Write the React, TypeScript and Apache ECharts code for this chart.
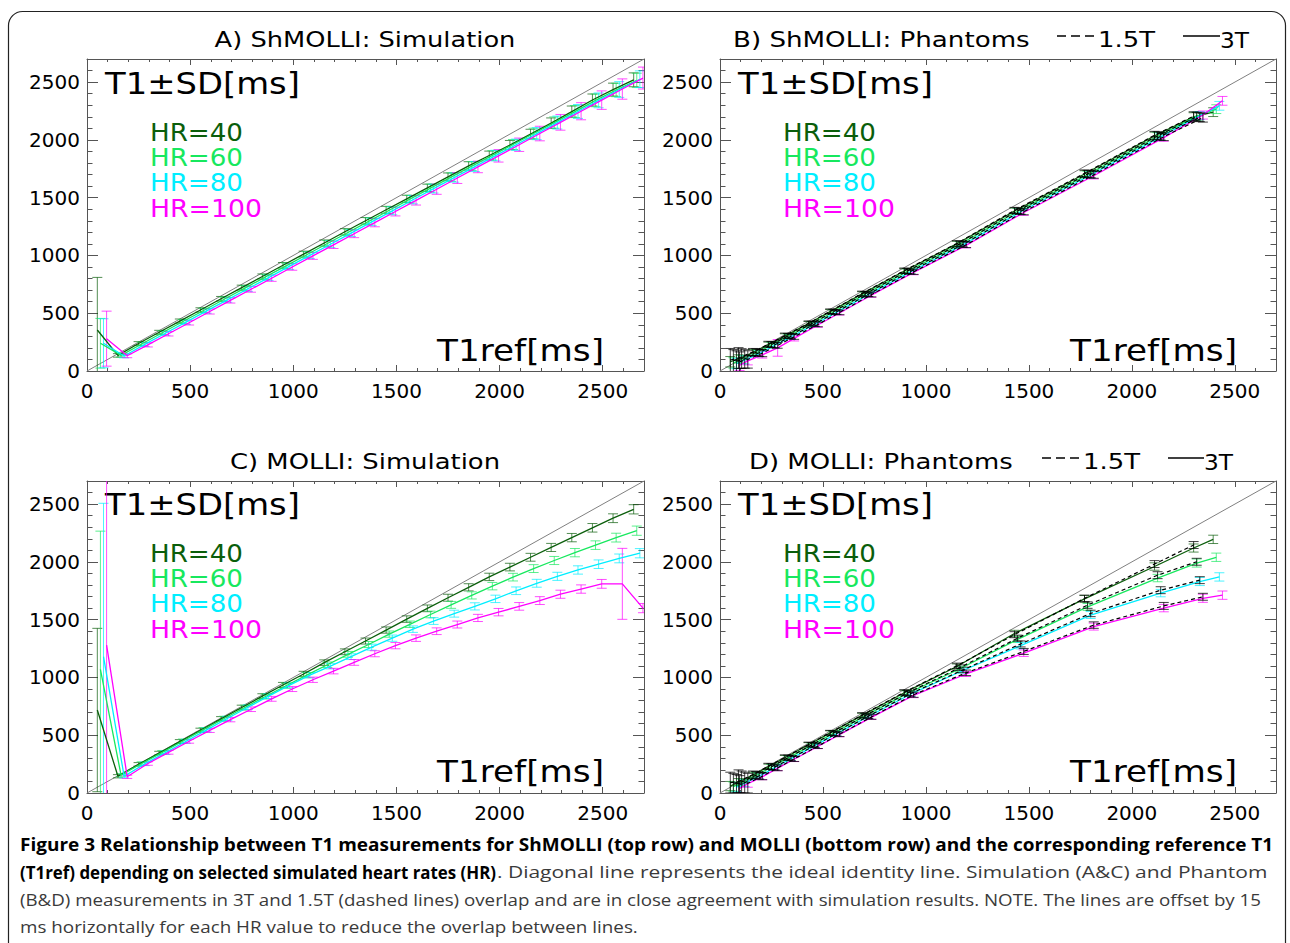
import React, { useEffect, useRef } from "react";
import * as echarts from "echarts";

const FONT = "DejaVu Sans";
const CAP_FONT = "Open Sans";

const HR_LABELS = ["HR=40", "HR=60", "HR=80", "HR=100"];
const HR_COLORS = ["#0b5e0b", "#17e85e", "#00eeff", "#ff00ff"];
const HR_OFFSETS = [0, 15, 30, 45];

const TICK_LABELS = [0, 500, 1000, 1500, 2000, 2500];
const AXIS_MAX = 2700;

// ---------- Simulation (A & C) ----------
const SIM_T1REF = [50, 150, 250, 350, 450, 550, 650, 750, 850, 950, 1050, 1150, 1250, 1350, 1450, 1550, 1650, 1750, 1850, 1950, 2050, 2150, 2250, 2350, 2450, 2550, 2650];

const A_HR40 = [355, 135, 238, 335, 432, 528, 625, 722, 818, 915, 1012, 1108, 1205, 1300, 1395, 1490, 1585, 1680, 1775, 1865, 1955, 2050, 2145, 2245, 2345, 2435, 2520];
const A_HR60 = [240, 135, 234, 331, 428, 524, 621, 717, 814, 910, 1006, 1103, 1199, 1295, 1391, 1487, 1583, 1678, 1773, 1866, 1960, 2055, 2150, 2245, 2342, 2432, 2515];
const A_HR80 = [240, 130, 230, 327, 423, 520, 616, 712, 808, 905, 1001, 1097, 1193, 1290, 1386, 1482, 1578, 1674, 1769, 1864, 1958, 2054, 2150, 2246, 2342, 2436, 2525];
const A_HR100 = [280, 132, 226, 322, 418, 515, 611, 707, 803, 900, 996, 1092, 1188, 1284, 1380, 1477, 1573, 1670, 1766, 1862, 1958, 2055, 2152, 2248, 2344, 2440, 2535];
const A_SD40 = [455, 15, 16, 17, 18, 19, 20, 21, 22, 24, 25, 26, 27, 28, 30, 31, 32, 34, 36, 38, 40, 42, 45, 48, 52, 56, 60];
const A_SD60 = [215, 15, 16, 17, 18, 19, 20, 22, 23, 24, 26, 27, 28, 30, 31, 33, 35, 37, 39, 41, 43, 46, 49, 52, 55, 58, 62];
const A_SD80 = [212, 16, 17, 18, 19, 20, 21, 23, 24, 26, 27, 29, 30, 32, 34, 36, 38, 40, 43, 46, 49, 52, 56, 60, 64, 68, 72];
const A_SD100 = [238, 17, 18, 19, 20, 22, 23, 25, 27, 28, 30, 32, 34, 36, 38, 41, 44, 47, 50, 54, 58, 63, 68, 74, 80, 88, 95];

const C_HR40 = [718, 145, 248, 345, 445, 543, 642, 740, 838, 935, 1030, 1128, 1222, 1315, 1410, 1505, 1598, 1690, 1780, 1870, 1955, 2040, 2125, 2210, 2295, 2378, 2455];
const C_HR60 = [1070, 155, 255, 352, 450, 548, 645, 740, 835, 928, 1020, 1110, 1200, 1285, 1375, 1460, 1545, 1628, 1710, 1790, 1868, 1942, 2012, 2080, 2145, 2210, 2270];
const C_HR80 = [1180, 145, 252, 350, 448, 546, 645, 742, 838, 932, 1020, 1098, 1180, 1262, 1340, 1418, 1488, 1552, 1615, 1680, 1750, 1815, 1875, 1930, 1980, 2030, 2075];
const C_HR100 = [1280, 140, 255, 352, 448, 542, 635, 725, 815, 900, 980, 1055, 1130, 1205, 1275, 1340, 1400, 1458, 1515, 1565, 1615, 1665, 1720, 1765, 1810, 1810, 1600];
const C_SD40 = [707, 14, 15, 16, 17, 18, 19, 20, 21, 22, 23, 24, 25, 26, 27, 28, 29, 30, 31, 32, 33, 34, 35, 36, 37, 38, 40];
const C_SD60 = [1196, 14, 15, 16, 17, 18, 19, 20, 21, 22, 23, 24, 25, 26, 27, 28, 29, 30, 31, 32, 33, 34, 35, 36, 37, 38, 40];
const C_SD80 = [1327, 14, 15, 16, 17, 18, 19, 20, 21, 22, 23, 24, 25, 26, 27, 28, 29, 30, 31, 32, 33, 34, 35, 36, 37, 38, 40];
const C_SD100 = [1700, 14, 15, 16, 17, 18, 19, 20, 21, 22, 23, 24, 25, 26, 27, 28, 29, 30, 31, 32, 33, 34, 35, 36, 38, 307, 40];

// ---------- Phantoms (B & D) ----------
const PH_T1REF_3T = [50, 90, 160, 235, 315, 430, 535, 690, 895, 1150, 1430, 1770, 2110, 2300, 2395];
const PH_T1REF_15T = [50, 90, 160, 235, 315, 430, 535, 690, 895, 1150, 1430, 1770, 2110, 2300];

const B_3T_HR40 = [80, 105, 160, 228, 302, 410, 514, 668, 865, 1100, 1385, 1705, 2035, 2200, 2240];
const B_3T_HR60 = [70, 100, 155, 226, 300, 407, 511, 665, 862, 1096, 1382, 1700, 2030, 2205, 2266];
const B_3T_HR80 = [65, 95, 150, 222, 296, 403, 507, 661, 858, 1092, 1378, 1696, 2026, 2210, 2295];
const B_3T_HR100 = [50, 88, 140, 200, 282, 398, 502, 656, 853, 1087, 1372, 1690, 2020, 2215, 2338];
const B_3T_SD40 = [45, 35, 26, 22, 20, 18, 18, 18, 20, 22, 25, 28, 32, 35, 38];
const B_3T_SD60 = [45, 35, 26, 22, 20, 18, 18, 18, 20, 22, 25, 28, 32, 35, 38];
const B_3T_SD80 = [45, 35, 26, 22, 20, 18, 18, 18, 20, 22, 25, 28, 32, 35, 38];
const B_3T_SD100 = [45, 35, 28, 72, 22, 20, 18, 18, 20, 22, 25, 28, 32, 35, 38];
const B_15T_HR40 = [95, 112, 165, 232, 306, 413, 517, 671, 869, 1104, 1390, 1710, 2040, 2205];
const B_15T_HR60 = [90, 108, 162, 229, 303, 410, 514, 668, 866, 1100, 1386, 1706, 2036, 2200];
const B_15T_HR80 = [85, 104, 158, 226, 300, 407, 511, 665, 862, 1096, 1382, 1702, 2032, 2196];
const B_15T_HR100 = [80, 100, 154, 222, 296, 403, 507, 661, 858, 1092, 1378, 1698, 2028, 2192];
const B_15T_SD40 = [100, 90, 30, 25, 22, 20, 20, 20, 22, 24, 26, 30, 34, 38];
const B_15T_SD60 = [95, 85, 30, 25, 22, 20, 20, 20, 22, 24, 26, 30, 34, 38];
const B_15T_SD80 = [90, 80, 30, 25, 22, 20, 20, 20, 22, 24, 26, 30, 34, 38];
const B_15T_SD100 = [85, 75, 30, 25, 22, 20, 20, 20, 22, 24, 26, 30, 34, 38];

const D_3T_HR40 = [60, 95, 155, 228, 305, 418, 520, 672, 868, 1095, 1380, 1680, 1960, 2120, 2195];
const D_3T_HR60 = [55, 90, 150, 225, 302, 414, 516, 668, 862, 1075, 1330, 1610, 1860, 1990, 2040];
const D_3T_HR80 = [50, 85, 145, 220, 298, 410, 512, 662, 855, 1060, 1275, 1540, 1730, 1830, 1870];
const D_3T_HR100 = [40, 80, 140, 215, 292, 402, 505, 655, 845, 1030, 1210, 1440, 1600, 1685, 1712];
const D_3T_SD40 = [40, 30, 25, 22, 20, 18, 18, 18, 20, 22, 28, 30, 32, 35, 36];
const D_3T_SD60 = [40, 30, 25, 22, 20, 18, 18, 18, 20, 22, 28, 30, 32, 35, 36];
const D_3T_SD80 = [40, 30, 25, 22, 20, 18, 18, 18, 20, 22, 28, 30, 32, 35, 36];
const D_3T_SD100 = [40, 30, 25, 22, 20, 18, 18, 18, 20, 22, 28, 30, 32, 35, 36];
const D_15T_HR40 = [90, 100, 160, 232, 308, 420, 522, 675, 872, 1100, 1370, 1684, 1981, 2146];
const D_15T_HR60 = [85, 95, 155, 228, 305, 416, 518, 670, 866, 1085, 1340, 1626, 1885, 2001];
const D_15T_HR80 = [80, 90, 150, 224, 300, 412, 514, 665, 860, 1065, 1290, 1554, 1755, 1842];
const D_15T_HR100 = [75, 85, 145, 218, 295, 405, 508, 658, 850, 1040, 1225, 1453, 1619, 1698];
const D_15T_SD40 = [90, 100, 30, 25, 22, 20, 20, 20, 22, 24, 26, 28, 30, 30];
const D_15T_SD60 = [85, 95, 30, 25, 22, 20, 20, 20, 22, 24, 26, 28, 30, 30];
const D_15T_SD80 = [80, 90, 30, 25, 22, 20, 20, 20, 22, 24, 26, 28, 30, 30];
const D_15T_SD100 = [75, 85, 30, 25, 22, 20, 20, 20, 22, 24, 26, 28, 30, 30];

const TITLES = ["A) ShMOLLI: Simulation", "B) ShMOLLI: Phantoms", "C) MOLLI: Simulation", "D) MOLLI: Phantoms"];

const CAPTION_1 = "Figure 3 Relationship between T1 measurements for ShMOLLI (top row) and MOLLI (bottom row) and the corresponding reference T1";
const CAPTION_2B = "(T1ref) depending on selected simulated heart rates (HR)";
const CAPTION_2N = ". Diagonal line represents the ideal identity line. Simulation (A&C) and Phantom";
const CAPTION_3 = "(B&D) measurements in 3T and 1.5T (dashed lines) overlap and are in close agreement with simulation results. NOTE. The lines are offset by 15";
const CAPTION_4 = "ms horizontally for each HR value to reduce the overlap between lines.";

type SetDef = { refs: number[]; vals: number[][]; sds: number[][]; kind: "sim" | "3T" | "15T" };

const PANEL_SETS: SetDef[][] = [
  [{ refs: SIM_T1REF, vals: [A_HR40, A_HR60, A_HR80, A_HR100], sds: [A_SD40, A_SD60, A_SD80, A_SD100], kind: "sim" }],
  [
    { refs: PH_T1REF_3T, vals: [B_3T_HR40, B_3T_HR60, B_3T_HR80, B_3T_HR100], sds: [B_3T_SD40, B_3T_SD60, B_3T_SD80, B_3T_SD100], kind: "3T" },
    { refs: PH_T1REF_15T, vals: [B_15T_HR40, B_15T_HR60, B_15T_HR80, B_15T_HR100], sds: [B_15T_SD40, B_15T_SD60, B_15T_SD80, B_15T_SD100], kind: "15T" },
  ],
  [{ refs: SIM_T1REF, vals: [C_HR40, C_HR60, C_HR80, C_HR100], sds: [C_SD40, C_SD60, C_SD80, C_SD100], kind: "sim" }],
  [
    { refs: PH_T1REF_3T, vals: [D_3T_HR40, D_3T_HR60, D_3T_HR80, D_3T_HR100], sds: [D_3T_SD40, D_3T_SD60, D_3T_SD80, D_3T_SD100], kind: "3T" },
    { refs: PH_T1REF_15T, vals: [D_15T_HR40, D_15T_HR60, D_15T_HR80, D_15T_HR100], sds: [D_15T_SD40, D_15T_SD60, D_15T_SD80, D_15T_SD100], kind: "15T" },
  ],
];

// layout
const GRIDS = [
  { left: 87, top: 59, width: 557, height: 312 },
  { left: 720, top: 59, width: 556, height: 312 },
  { left: 87, top: 481, width: 557, height: 312 },
  { left: 720, top: 481, width: 556, height: 312 },
];
const PANEL_DX = [0, 633, 0, 633];
const PANEL_DY = [0, 0, 421, 421];
const AX_COLOR = "#555";

let measureCtx: CanvasRenderingContext2D | null = null;
function measure(text: string, font: string): number {
  if (!measureCtx) {
    const c = document.createElement("canvas");
    measureCtx = c.getContext("2d");
  }
  if (!measureCtx) return 0;
  measureCtx.font = font;
  return measureCtx.measureText(text).width;
}
function fit(text: string, size: number, family: string, weight: string, target: number): number {
  const w = measure(text, `${weight} ${size}px "${family}"`);
  return w > 0 ? target / w : 1;
}

function txt(text: string, x: number, y: number, size: number, fill: string, align: string, target?: number, family = FONT, weight = "normal") {
  const sx = target ? fit(text, size, family, weight, target) : 1;
  return {
    type: "text",
    x,
    y,
    scaleX: sx,
    silent: true,
    style: { text, fill, fontSize: size, fontFamily: family, fontWeight: weight, align, verticalAlign: "middle" },
  };
}

const errRender = (color: string, opacity: number) => (params: any, api: any) => {
  const x = api.value(0);
  const lo = api.value(1);
  const hi = api.value(2);
  const a = api.coord([x, hi]);
  const b = api.coord([x, lo]);
  const w = 5;
  const style = { stroke: color, lineWidth: 1, opacity };
  return {
    type: "group",
    children: [
      { type: "line", shape: { x1: a[0], y1: a[1], x2: b[0], y2: b[1] }, style },
      { type: "line", shape: { x1: a[0] - w, y1: a[1], x2: a[0] + w, y2: a[1] }, style },
      { type: "line", shape: { x1: b[0] - w, y1: b[1], x2: b[0] + w, y2: b[1] }, style },
    ],
  };
};

function buildOption() {
  const xAxis: any[] = [];
  const yAxis: any[] = [];
  const series: any[] = [];
  const labelFmt = (v: number) => (TICK_LABELS.includes(v) ? String(v) : "");
  const lineStyle = { color: AX_COLOR, width: 1 };

  GRIDS.forEach((_, g) => {
    const base = { gridIndex: g, type: "value", min: 0, max: AXIS_MAX, interval: 500, splitLine: { show: false }, minorSplitLine: { show: false } };
    xAxis.push({
      ...base,
      position: "bottom",
      axisLine: { show: true, onZero: false, lineStyle },
      axisTick: { show: true, inside: true, length: 6, lineStyle },
      minorTick: { show: true, splitNumber: 5, length: 3, lineStyle },
      axisLabel: { show: true, color: "#000", fontSize: 20, fontFamily: FONT, margin: 10, formatter: labelFmt },
    });
    xAxis.push({
      ...base,
      position: "top",
      axisLine: { show: true, onZero: false, lineStyle },
      axisTick: { show: true, inside: true, length: 6, lineStyle },
      minorTick: { show: true, splitNumber: 5, length: 3, lineStyle },
      axisLabel: { show: false },
    });
    yAxis.push({
      ...base,
      position: "left",
      axisLine: { show: true, onZero: false, lineStyle },
      axisTick: { show: true, inside: true, length: 11, lineStyle },
      minorTick: { show: true, splitNumber: 5, length: 5.5, lineStyle },
      axisLabel: { show: true, color: "#000", fontSize: 20, fontFamily: FONT, margin: 7, formatter: labelFmt },
    });
    yAxis.push({
      ...base,
      position: "right",
      axisLine: { show: true, onZero: false, lineStyle },
      axisTick: { show: true, inside: true, length: 11, lineStyle },
      minorTick: { show: true, splitNumber: 5, length: 5.5, lineStyle },
      axisLabel: { show: false },
    });

    const xi = g * 2;
    const yi = g * 2;
    series.push({
      type: "line",
      xAxisIndex: xi,
      yAxisIndex: yi,
      data: [[0, 0], [AXIS_MAX, AXIS_MAX]],
      symbol: "none",
      silent: true,
      lineStyle: { color: "#808080", width: 1 },
      z: 1,
    });

    PANEL_SETS[g].forEach((set) => {
      set.vals.forEach((vals, k) => {
        const off = HR_OFFSETS[k];
        const black = set.kind === "15T";
        const color = black ? "#000" : HR_COLORS[k];
        series.push({
          type: "custom",
          xAxisIndex: xi,
          yAxisIndex: yi,
          clip: true,
          silent: true,
          z: black ? 4 : 2,
          data: set.refs.map((r, j) => [r + off, vals[j] - set.sds[k][j], vals[j] + set.sds[k][j]]),
          encode: { x: 0, y: [1, 2] },
          renderItem: errRender(color, black ? 0.75 : 0.7),
        });
        series.push({
          type: "line",
          xAxisIndex: xi,
          yAxisIndex: yi,
          data: set.refs.map((r, j) => [r + off, vals[j]]),
          symbol: "none",
          silent: true,
          clip: true,
          z: black ? 5 : 3,
          lineStyle: { color, width: black ? 1.2 : 1.3, type: black ? [4, 3] : "solid" },
        });
      });
    });
  });

  const graphic: any[] = [];
  graphic.push({
    type: "rect",
    silent: true,
    z: -10,
    shape: { x: 8.5, y: 11.5, width: 1277, height: 1000, r: 14 },
    style: { fill: "none", stroke: "#222", lineWidth: 1.2 },
  });

  // titles
  graphic.push(txt(TITLES[0], 365, 40, 22, "#000", "center", 301));
  graphic.push(txt(TITLES[2], 365, 462, 22, "#000", "center", 270));
  graphic.push(txt(TITLES[1], 733, 40, 22, "#000", "left", 297));
  graphic.push(txt(TITLES[3], 749, 462, 22, "#000", "left", 264));
  // title legends
  const legends = [
    { y: 40, dash: [1057, 1098], t15: 1098, solid: [1183, 1220], t3: 1220 },
    { y: 462, dash: [1042, 1083], t15: 1083, solid: [1168, 1204], t3: 1204 },
  ];
  legends.forEach((l) => {
    graphic.push({ type: "line", silent: true, shape: { x1: l.dash[0], y1: l.y - 4, x2: l.dash[1], y2: l.y - 4 }, style: { stroke: "#000", lineWidth: 1.3, lineDash: [9, 5] } });
    graphic.push(txt("1.5T", l.t15, l.y, 22, "#000", "left", 57));
    graphic.push({ type: "line", silent: true, shape: { x1: l.solid[0], y1: l.y - 4, x2: l.solid[1], y2: l.y - 4 }, style: { stroke: "#000", lineWidth: 1.3 } });
    graphic.push(txt("3T", l.t3, l.y, 22, "#000", "left", 29));
  });

  // in-panel labels
  for (let g = 0; g < 4; g++) {
    const dx = PANEL_DX[g];
    const dy = PANEL_DY[g];
    graphic.push(txt("T1±SD[ms]", 105 + dx, 84 + dy, 30, "#000", "left", 195));
    graphic.push(txt("T1ref[ms]", 604 + dx, 351 + dy, 30, "#000", "right", 167));
    const hy = [132, 157, 182.5, 208];
    HR_LABELS.forEach((lab, k) => {
      graphic.push(txt(lab, 150 + dx, hy[k] + dy, 25, HR_COLORS[k], "left", k === 3 ? 112 : 93));
    });
  }

  // caption
  const cs = 17;
  graphic.push(txt(CAPTION_1, 20, 844, cs, "#000", "left", 1254, CAP_FONT, "bold"));
  const sB = fit(CAPTION_2B, cs, CAP_FONT, "bold", 476);
  const sN = fit(CAPTION_2N, cs, CAP_FONT, "normal", 771);
  graphic.push({
    type: "text",
    x: 20,
    y: 872,
    scaleX: sB,
    silent: true,
    style: { text: CAPTION_2B, fill: "#000", fontSize: cs, fontFamily: CAP_FONT, fontWeight: "bold", align: "left", verticalAlign: "middle" },
  });
  graphic.push({
    type: "text",
    x: 497,
    y: 872,
    scaleX: sN,
    silent: true,
    style: { text: CAPTION_2N, fill: "#3a3a3a", fontSize: cs, fontFamily: CAP_FONT, fontWeight: "normal", align: "left", verticalAlign: "middle" },
  });
  graphic.push(txt(CAPTION_3, 20, 899, cs, "#3a3a3a", "left", 1242, CAP_FONT, "normal"));
  graphic.push(txt(CAPTION_4, 20, 926, cs, "#3a3a3a", "left", 618, CAP_FONT, "normal"));

  return {
    animation: false,
    backgroundColor: "#fff",
    grid: GRIDS.map((g) => ({ ...g, containLabel: false })),
    xAxis,
    yAxis,
    series,
    graphic,
  };
}

export default function App() {
  const ref = useRef<HTMLDivElement>(null);
  useEffect(() => {
    if (!ref.current) return;
    const chart = echarts.init(ref.current, undefined, { renderer: "svg" });
    chart.setOption(buildOption() as any);
    return () => chart.dispose();
  }, []);
  return <div ref={ref} style={{ position: "fixed", left: 0, top: 0, width: 1290, height: 943, background: "#fff" }} />;
}
